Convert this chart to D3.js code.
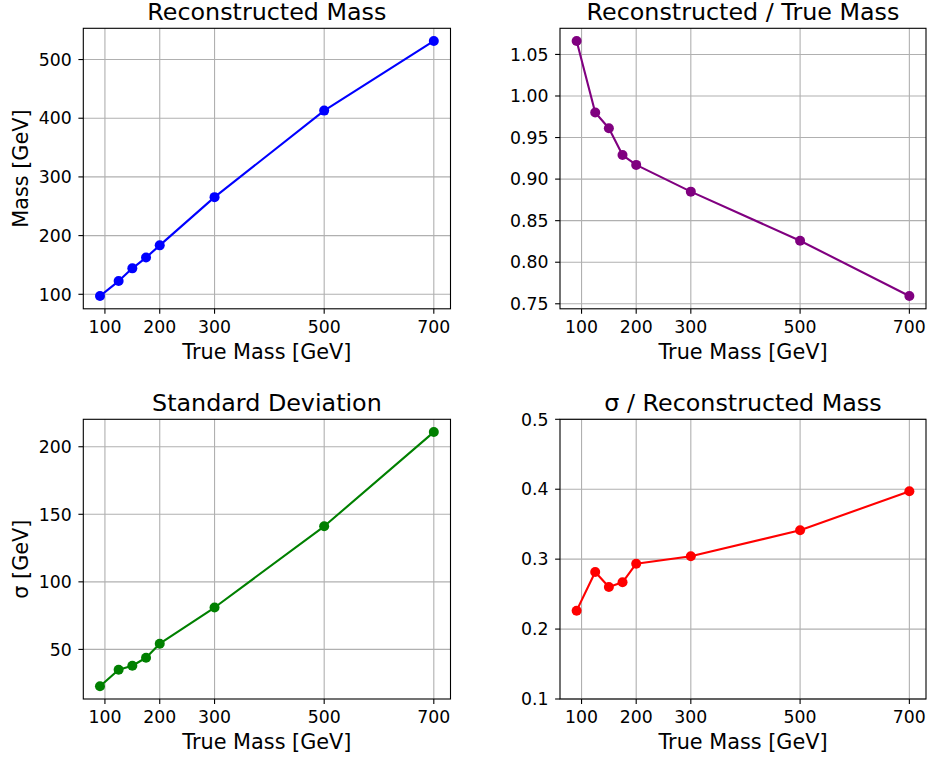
<!DOCTYPE html>
<html>
<head>
<meta charset="utf-8">
<script src="https://cdn.jsdelivr.net/npm/d3@7"></script>
<style>
  html, body { margin: 0; padding: 0; background: #fff; }
  svg { display: block; font-family: "DejaVu Sans", sans-serif; }
</style>
</head>
<body>
<svg id="chart" width="930" height="759"></svg>
<script>
// ---- data ----
const trueMass = [91, 125, 150, 175, 200, 300, 500, 700];
const recoMass = [97.0, 122.5, 144.2, 162.6, 183.4, 265.5, 413.0, 531.5];
const recoRatio = [1.0661, 0.9801, 0.9612, 0.9289, 0.9171, 0.8849, 0.8259, 0.7593];
const sigma = [22.7, 34.9, 37.9, 43.8, 54.2, 81.0, 141.1, 210.9];
const sigmaOverReco = [0.2263, 0.2816, 0.2602, 0.2669, 0.2935, 0.3041, 0.3413, 0.3970];
const xTicks = [100, 200, 300, 500, 700];
const yTicks1 = [100, 200, 300, 400, 500];
const yTicks2 = [0.75, 0.80, 0.85, 0.90, 0.95, 1.00, 1.05];
const yTicks3 = [50, 100, 150, 200];
const yTicks4 = [0.1, 0.2, 0.3, 0.4, 0.5];

const panels = [
  { title: "Reconstructed Mass", ys: recoMass, color: "blue", ylabel: "Mass [GeV]", ticks: yTicks1, fmt: d3.format("d"),
    box: { x0: 83.3, x1: 450.5, y0: 28.3, y1: 308.8 } },
  { title: "Reconstructed / True Mass", ys: recoRatio, color: "purple", ylabel: null, ticks: yTicks2, fmt: d3.format(".2f"),
    box: { x0: 560, x1: 926, y0: 28.3, y1: 308.8 } },
  { title: "Standard Deviation", ys: sigma, color: "green", ylabel: "σ [GeV]", ticks: yTicks3, fmt: d3.format("d"),
    box: { x0: 83.3, x1: 450.5, y0: 419.3, y1: 699 } },
  { title: "σ / Reconstructed Mass", ys: sigmaOverReco, color: "red", ylabel: null, ticks: yTicks4, fmt: d3.format(".1f"),
    box: { x0: 560, x1: 926, y0: 419.3, y1: 699 }, ydomain: [0.1, 0.5] }
];

const svg = d3.select("#chart");
const TICK_FS = 17.3, LABEL_FS = 20.8, TITLE_FS = 23.8;

function padDomain(vals) {
  const [a, b] = d3.extent(vals);
  const m = (b - a) * 0.05;
  return [a - m, b + m];
}

panels.forEach(p => {
  const b = p.box;
  const x = d3.scaleLinear().domain(padDomain(trueMass)).range([b.x0, b.x1]);
  const y = d3.scaleLinear().domain(p.ydomain || padDomain(p.ys)).range([b.y1, b.y0]);
  const g = svg.append("g");

  // grid
  g.append("g").selectAll("line").data(xTicks).join("line")
    .attr("x1", d => x(d)).attr("x2", d => x(d))
    .attr("y1", b.y0).attr("y2", b.y1)
    .attr("stroke", "#b0b0b0").attr("stroke-width", 1.1);
  g.append("g").selectAll("line").data(p.ticks).join("line")
    .attr("x1", b.x0).attr("x2", b.x1)
    .attr("y1", d => y(d)).attr("y2", d => y(d))
    .attr("stroke", "#b0b0b0").attr("stroke-width", 1.1);

  // data line + markers
  const pts = trueMass.map((t, i) => [t, p.ys[i]]);
  g.append("path").datum(pts)
    .attr("fill", "none").attr("stroke", p.color).attr("stroke-width", 2.1)
    .attr("stroke-linejoin", "round").attr("stroke-linecap", "square")
    .attr("d", d3.line().x(d => x(d[0])).y(d => y(d[1])));
  g.append("g").selectAll("circle").data(pts).join("circle")
    .attr("cx", d => x(d[0])).attr("cy", d => y(d[1])).attr("r", 5)
    .attr("fill", p.color);

  // frame
  g.append("rect").attr("x", b.x0).attr("y", b.y0)
    .attr("width", b.x1 - b.x0).attr("height", b.y1 - b.y0)
    .attr("fill", "none").attr("stroke", "#000").attr("stroke-width", 1.1);

  // x axis ticks
  const xt = g.append("g").selectAll("g").data(xTicks).join("g");
  xt.append("line").attr("x1", d => x(d)).attr("x2", d => x(d))
    .attr("y1", b.y1).attr("y2", b.y1 + 4.9).attr("stroke", "#000").attr("stroke-width", 1.1);
  xt.append("text").attr("x", d => x(d)).attr("y", b.y1 + 24)
    .attr("text-anchor", "middle").attr("font-size", TICK_FS).attr("fill", "#000")
    .text(d => d3.format("d")(d));

  // y axis ticks
  const yt = g.append("g").selectAll("g").data(p.ticks).join("g");
  yt.append("line").attr("x1", b.x0 - 4.9).attr("x2", b.x0)
    .attr("y1", d => y(d)).attr("y2", d => y(d)).attr("stroke", "#000").attr("stroke-width", 1.1);
  yt.append("text").attr("x", b.x0 - 11.5).attr("y", d => y(d))
    .attr("dy", "0.36em").attr("text-anchor", "end").attr("font-size", TICK_FS).attr("fill", "#000")
    .text(d => p.fmt(d));

  // x label
  g.append("text").attr("x", (b.x0 + b.x1) / 2).attr("y", b.y1 + 50)
    .attr("text-anchor", "middle").attr("font-size", LABEL_FS).attr("fill", "#000")
    .text("True Mass [GeV]");

  // y label
  if (p.ylabel) {
    const cy = (b.y0 + b.y1) / 2;
    g.append("text").attr("transform", `translate(${b.x0 - 55},${cy}) rotate(-90)`)
      .attr("text-anchor", "middle").attr("font-size", LABEL_FS).attr("fill", "#000")
      .text(p.ylabel);
  }

  // title
  g.append("text").attr("x", (b.x0 + b.x1) / 2).attr("y", b.y0 - 8.2)
    .attr("text-anchor", "middle").attr("font-size", TITLE_FS).attr("fill", "#000")
    .text(p.title);
});
</script>
</body>
</html>
